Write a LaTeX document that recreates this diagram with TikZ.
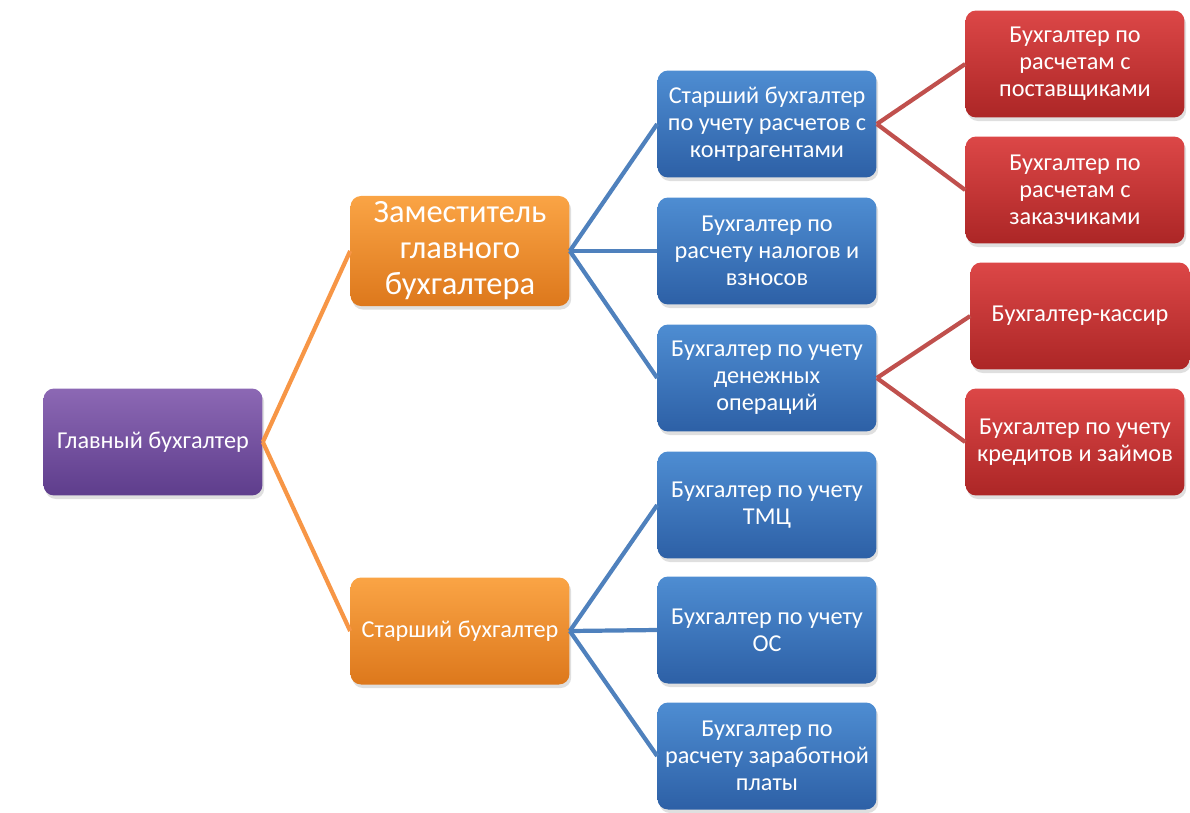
\documentclass[tikz,border=0pt]{standalone}
\usepackage{fontspec}
\setmainfont{Carlito}
\usetikzlibrary{shadows}

\definecolor{purpletop}{HTML}{8C68B4}
\definecolor{purplebot}{HTML}{5E3D8C}
\definecolor{orangetop}{HTML}{FAA445}
\definecolor{orangebot}{HTML}{DD781C}
\definecolor{bluetop}{HTML}{4E8DD2}
\definecolor{bluebot}{HTML}{2D60A6}
\definecolor{redtop}{HTML}{DC4747}
\definecolor{redbot}{HTML}{AC2626}
\definecolor{orangeline}{HTML}{F79646}
\definecolor{blueline}{HTML}{4F81BD}
\definecolor{redline}{HTML}{C0504D}

\tikzset{
  post/.style={rectangle, rounded corners=6pt, minimum width=4.38cm, minimum height=2.14cm,
    align=center, text=white, font=\fontsize{13.8}{15.4}\selectfont,
    drop shadow={opacity=0.25, shadow xshift=1pt, shadow yshift=-2pt}},
  chief/.style={post, top color=purpletop, bottom color=purplebot},
  deputy/.style={post, top color=orangetop, bottom color=orangebot},
  senior/.style={post, top color=bluetop, bottom color=bluebot},
  clerk/.style={post, top color=redtop, bottom color=redbot},
  link/.style={line width=2.4pt}
}

\begin{document}
\begin{tikzpicture}[x=0.02cm, y=-0.02cm]
  \useasboundingbox (0,0) rectangle (1190,812);
  \node[chief] (g) at (153,442) {Главный бухгалтер};
  \node[deputy, font=\fontsize{18.5}{20.5}\selectfont] (z) at (460,251) {Заместитель\\главного\\бухгалтера};
  \node[deputy] (s) at (460,631) {Старший бухгалтер};
  \node[senior] (b1) at (767,124) {Старший бухгалтер\\по учету расчетов с\\контрагентами};
  \node[senior] (b2) at (767,251) {Бухгалтер по\\расчету налогов и\\взносов};
  \node[senior] (b3) at (767,378) {Бухгалтер по учету\\денежных\\операций};
  \node[senior] (b4) at (767,505) {Бухгалтер по учету\\ТМЦ};
  \node[senior] (b5) at (767,630) {Бухгалтер по учету\\ОС};
  \node[senior] (b6) at (767,756) {Бухгалтер по\\расчету заработной\\платы};
  \node[clerk] (r1) at (1075,64) {Бухгалтер по\\расчетам с\\поставщиками};
  \node[clerk] (r2) at (1075,190) {Бухгалтер по\\расчетам с\\заказчиками};
  \node[clerk] (r3) at (1080,316) {Бухгалтер-кассир};
  \node[clerk] (r4) at (1075,442) {Бухгалтер по учету\\кредитов и займов};
  % Draw the links
  \draw[link, orangeline] (g.east) -- (z.west);
  \draw[link, orangeline] (g.east) -- (s.west);
  \draw[link, blueline] (z.east) -- (b1.west);
  \draw[link, blueline] (z.east) -- (b2.west);
  \draw[link, blueline] (z.east) -- (b3.west);
  \draw[link, blueline] (s.east) -- (b4.west);
  \draw[link, blueline] (s.east) -- (b5.west);
  \draw[link, blueline] (s.east) -- (b6.west);
  \draw[link, redline] (b1.east) -- (r1.west);
  \draw[link, redline] (b1.east) -- (r2.west);
  \draw[link, redline] (b3.east) -- (r3.west);
  \draw[link, redline] (b3.east) -- (r4.west);
\end{tikzpicture}
\end{document}
